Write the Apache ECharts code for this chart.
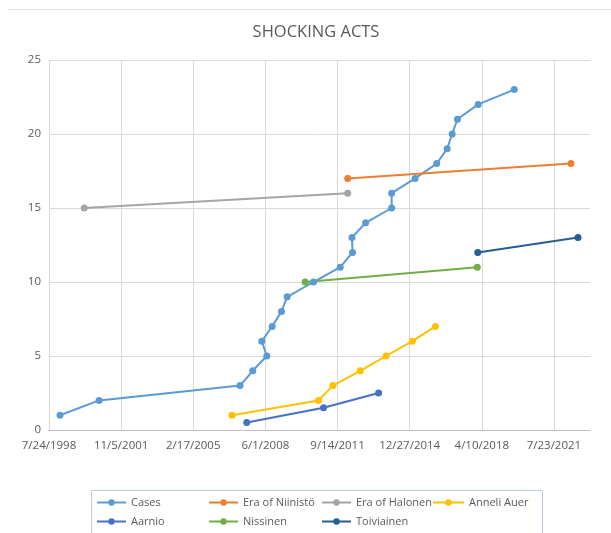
<!DOCTYPE html>
<html>
<head>
<meta charset="utf-8">
<script src="https://cdn.jsdelivr.net/npm/echarts@6/dist/echarts.min.js"></script>
<style>
html,body{margin:0;padding:0;background:#fff;}
#c{width:611px;height:533px;}
</style>
</head>
<body>
<div id="c"></div>
<script>
// x values are Excel date serials (days since 1899-12-30)
var casesX = [36183, 36833, 39178, 39390, 39623, 39540, 39712, 39867, 39962, 40400, 40845, 41050, 41040, 41267, 41700, 41700, 42090, 42450, 42623, 42707, 42795, 43140, 43740];
var casesY = [1, 2, 3, 4, 5, 6, 7, 8, 9, 10, 11, 12, 13, 14, 15, 16, 17, 18, 19, 20, 21, 22, 23];
var niinistoX = [40969, 44683];
var niinistoY = [17, 18];
var halonenX = [36586, 40969];
var halonenY = [15, 16];
var auerX = [39045, 40483, 40723, 41178, 41607, 42045, 42428];
var auerY = [1, 2, 3, 4, 5, 6, 7];
var aarnioX = [39290, 40567, 41483];
var aarnioY = [0.5, 1.5, 2.5];
var nissinenX = [40262, 43125];
var nissinenY = [10, 11];
var toiviainenX = [43133, 44800];
var toiviainenY = [12, 13];

var seriesNames = ['Cases', 'Era of Niinistö', 'Era of Halonen', 'Anneli Auer', 'Aarnio', 'Nissinen', 'Toiviainen'];
var seriesColors = ['#5b9bd5', '#ed7d31', '#a5a5a5', '#ffc000', '#4472c4', '#70ad47', '#255e91'];
var xs = [casesX, niinistoX, halonenX, auerX, aarnioX, nissinenX, toiviainenX];
var ys = [casesY, niinistoY, halonenY, auerY, aarnioY, nissinenY, toiviainenY];

var xMin = 36000, xMax = 45000, xStep = 1200;
var xTicks = [];
for (var t = xMin; t < xMax; t += xStep) xTicks.push(t);

function serialToLabel(s) {
  var d = new Date(Date.UTC(1899, 11, 30) + s * 86400000);
  return (d.getUTCMonth() + 1) + '/' + d.getUTCDate() + '/' + d.getUTCFullYear();
}

var FONT = 'Open Sans';
var TXT = '#595959';

var series = seriesNames.map(function (n, i) {
  return {
    name: n,
    type: 'line',
    data: xs[i].map(function (x, j) { return [x, ys[i][j]]; }),
    symbol: 'circle',
    symbolSize: 7,
    showSymbol: true,
    lineStyle: { width: 2, color: seriesColors[i] },
    itemStyle: { color: seriesColors[i] },
    emphasis: { disabled: true },
    animation: false
  };
});

function legendCol(names, left, w) {
  return {
    data: names,
    orient: 'vertical',
    left: left,
    top: 495.5,
    padding: 0,
    itemWidth: w,
    itemHeight: 8,
    itemGap: 5,
    textStyle: { color: TXT, fontSize: 11, fontFamily: FONT, lineHeight: 14, height: 14 },
    selectedMode: false
  };
}

var chart = echarts.init(document.getElementById('c'), null, { renderer: 'canvas' });
chart.setOption({
  backgroundColor: '#fff',
  animation: false,
  color: seriesColors,
  graphic: [
    { type: 'line', shape: { x1: 8, y1: 9.5, x2: 611, y2: 9.5 }, style: { stroke: '#e4e4e4', lineWidth: 1 }, z: -1 },
    { type: 'rect', shape: { x: 91.5, y: 490.5, width: 451, height: 60 }, style: { fill: '#fff', stroke: '#b8cbe0', lineWidth: 1 }, z: -1 },
    { type: 'text', x: 316, y: 32, style: { text: 'SHOCKING ACTS', fontSize: 16.5, fontFamily: FONT, fill: TXT, textAlign: 'center', textVerticalAlign: 'middle' } }
  ],
  grid: { left: 49, right: 21, top: 60, bottom: 103, containLabel: false },
  xAxis: {
    type: 'value',
    min: xMin,
    max: xMax,
    interval: xStep,
    axisLine: { show: true, lineStyle: { color: '#bfbfbf', width: 1 } },
    axisTick: { show: false, customValues: xTicks },
    axisLabel: {
      customValues: xTicks,
      color: TXT, fontSize: 11.5, fontFamily: FONT, margin: 10,
      formatter: function (v) { return serialToLabel(v); }
    },
    splitLine: { show: true, lineStyle: { color: '#d9d9d9', width: 1 } }
  },
  yAxis: {
    type: 'value',
    min: 0,
    max: 25,
    interval: 5,
    axisLine: { show: false },
    axisTick: { show: false },
    axisLabel: { color: TXT, fontSize: 11.5, fontFamily: FONT, margin: 8 },
    splitLine: { show: true, lineStyle: { color: '#d9d9d9', width: 1 } }
  },
  legend: [
    legendCol(['Cases', 'Aarnio'], 96, 29),
    legendCol(['Era of Niinistö', 'Nissinen'], 208, 29),
    legendCol(['Era of Halonen', 'Toiviainen'], 321, 29),
    legendCol(['Anneli Auer'], 432, 31)
  ],
  series: series
});
</script>
</body>
</html>
